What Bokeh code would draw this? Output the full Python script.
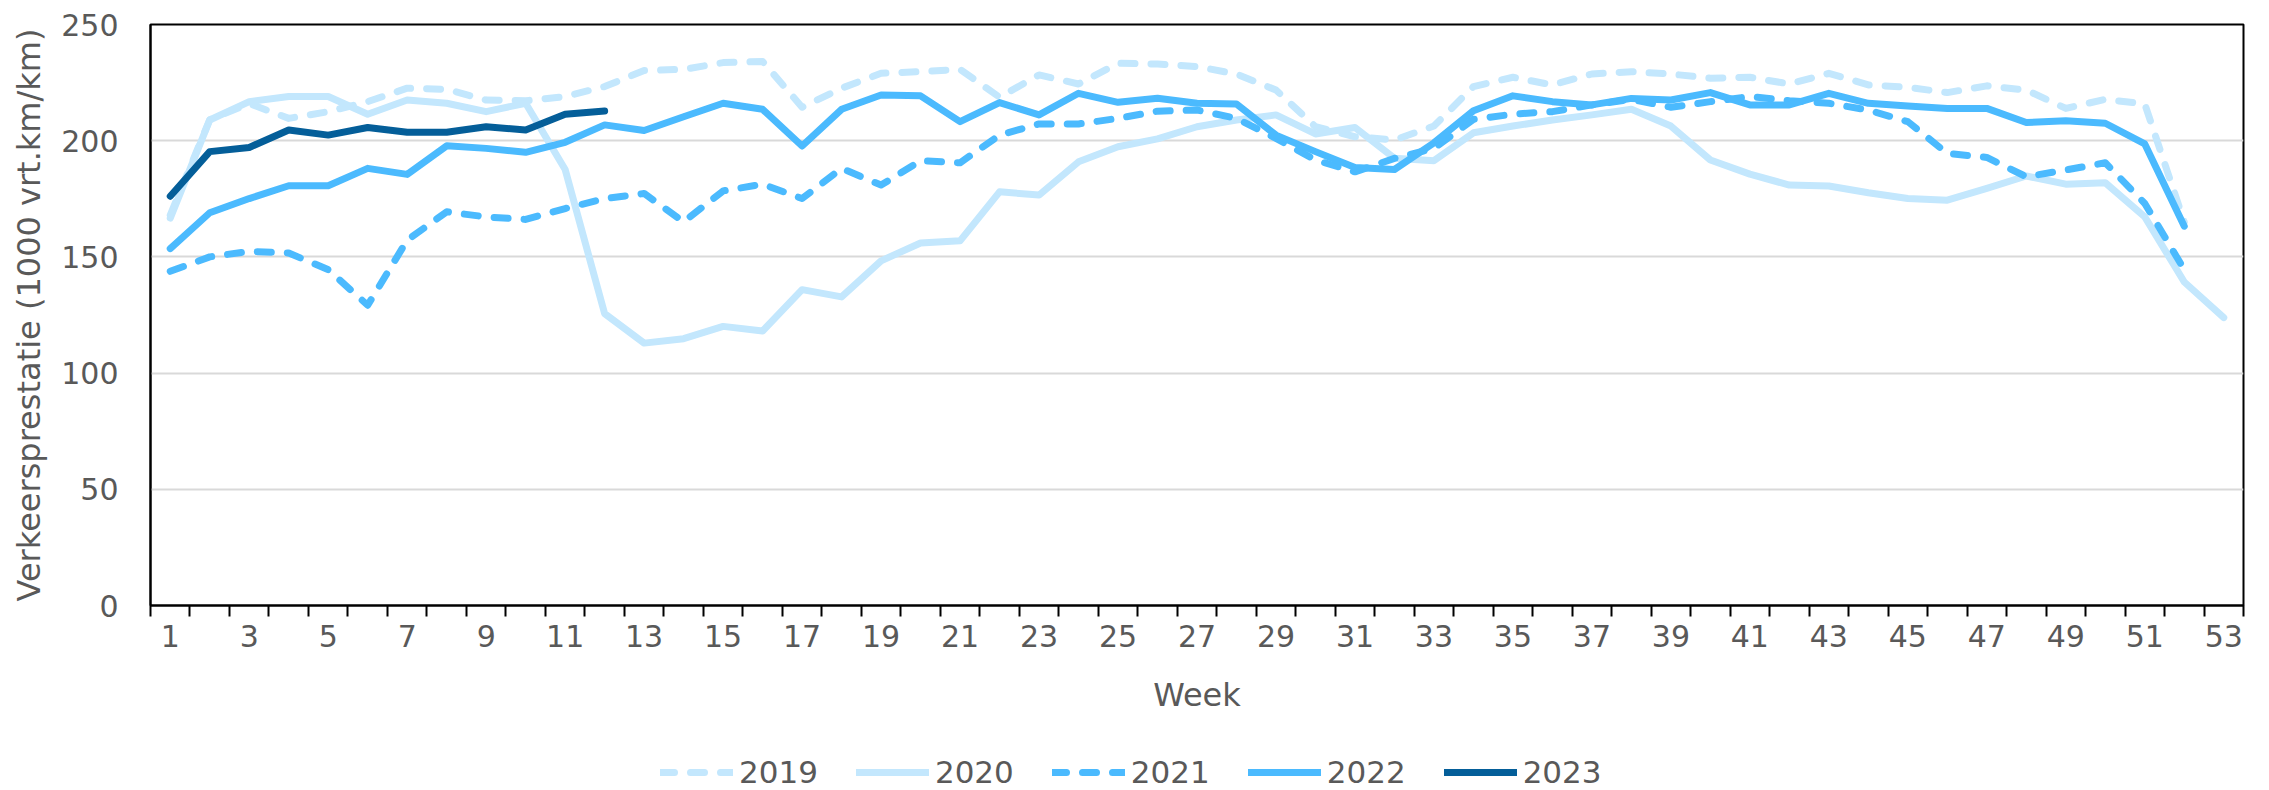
from bokeh.plotting import figure
from bokeh.layouts import column
from bokeh.models import FixedTicker, Legend, LegendItem, Range1d, ColumnDataSource
from bokeh.embed import file_html
from bokeh.resources import INLINE

weeks = list(range(1, 54))
tick_weeks = list(range(1, 54, 2))
y_ticks = [0, 50, 100, 150, 200, 250]

y2019 = [168, 209, 216, 209.6, 212.5, 216.8, 222.6, 222.1, 217.5, 217.2, 219, 223.3,
         230.2, 230.7, 233.6, 234.1, 214.4, 222.6, 229, 229.7, 230.7, 218.7, 228.3, 224.4,
         233.3, 233, 231.9, 228.7, 221.8, 206, 201.7, 200.3, 206.3, 223.3, 227.3, 224,
         228.7, 229.7, 228.7, 226.9, 227.3, 224.4, 229, 224, 223, 220.7, 223.6, 221.8,
         213.9, 217.8, 215.8, 165]
y2020 = [166.7, 208.9, 216.8, 219, 219, 211.4, 217.5, 216.1, 212.5, 216.1, 187.6, 125.6,
         112.9, 114.8, 120.1, 118.1, 135.9, 132.8, 148.3, 156, 156.9, 178, 176.6, 190.9,
         197.4, 200.8, 206, 208.9, 211.1, 202.9, 205.7, 192.4, 191.4, 203.4, 206.3, 208.9,
         211.1, 213.5, 206.3, 191.7, 185.6, 180.9, 180.5, 177.6, 175.1, 174.4, 179.5, 184.8,
         181.3, 181.9, 167.2, 139.2, 123.9]
y2021 = [143.8, 150, 152.4, 151.7, 144.5, 129.2, 157.2, 169.4, 167.2, 166.1, 170.8, 175.1,
         177.3, 165.1, 178.4, 181.3, 175.1, 188.1, 180.9, 191.4, 190.5, 202.4, 207.2, 207.2,
         209.6, 212.7, 213.2, 209.6, 201, 191.7, 186.6, 192.4, 196.7, 209.2, 211.4, 212.5,
         215.4, 217.8, 214.4, 216.8, 219, 217.2, 216.1, 213.2, 208.2, 194.5, 192.8, 184.5,
         187.4, 190.5, 173, 144.5]
y2022 = [153.6, 169, 175.1, 180.6, 180.6, 188.1, 185.5, 197.8, 196.7, 195, 199.3, 206.8,
         204.4, 210.3, 216.1, 213.5, 197.7, 213.5, 219.7, 219.3, 208.2, 216.4, 211.1, 220.4,
         216.5, 218.3, 216.1, 215.8, 202.4, 195.3, 188.5, 187.6, 199.1, 212.9, 219.3, 216.8,
         215.4, 218.2, 217.5, 220.7, 215.4, 215.4, 220.4, 216.1, 214.9, 213.9, 213.9, 207.8,
         208.6, 207.5, 198.6, 163.2]
y2023 = [176.1, 195.3, 197.1, 204.6, 202.4, 205.7, 203.6, 203.6, 206, 204.6, 211.4, 212.8]

series_names = ["2019", "2020", "2021", "2022", "2023"]
series_values = [y2019, y2020, y2021, y2022, y2023]
series_colors = ["#C3E7FD", "#C3E7FD", "#4BBAFE", "#4BBAFE", "#045E99"]
series_dash = ["14 16", "solid", "14 16", "solid", "solid"]

FONT = "DejaVu Sans"
GRAY = "#595959"
W = 2261

p = figure(width=W, height=725, x_range=Range1d(0.5, 53.5), y_range=Range1d(0, 250),
           output_backend="svg", toolbar_location=None,
           min_border_left=150, min_border_right=18, min_border_top=24, min_border_bottom=120)
p.background_fill_color = "white"
p.border_fill_color = "white"
p.outline_line_color = "black"
p.outline_line_width = 2

for name, vals, col, dash in zip(series_names, series_values, series_colors, series_dash):
    src = ColumnDataSource(dict(x=weeks[:len(vals)], y=vals))
    p.line("x", "y", source=src, line_color=col, line_width=7, line_dash=dash,
           line_join="round", line_cap="round")

# axes
p.xaxis.ticker = FixedTicker(ticks=tick_weeks, minor_ticks=[w - 0.5 for w in weeks] + [53.5])
p.xaxis.major_tick_line_color = None
p.xaxis.major_tick_out = 0
p.xaxis.major_tick_in = 0
p.xaxis.minor_tick_line_color = "black"
p.xaxis.minor_tick_line_width = 2
p.xaxis.minor_tick_out = 11
p.xaxis.minor_tick_in = 0
p.xaxis.axis_line_color = "black"
p.xaxis.axis_line_width = 2
p.xaxis.major_label_text_font = FONT
p.xaxis.major_label_text_font_size = "30px"
p.xaxis.major_label_text_color = GRAY
p.xaxis.major_label_standoff = 8
p.xaxis.axis_label = "Week"
p.xaxis.axis_label_text_font = FONT
p.xaxis.axis_label_text_font_size = "32px"
p.xaxis.axis_label_text_font_style = "normal"
p.xaxis.axis_label_text_color = GRAY
p.xaxis.axis_label_standoff = 26

p.yaxis.ticker = FixedTicker(ticks=y_ticks)
p.yaxis.major_tick_line_color = None
p.yaxis.minor_tick_line_color = None
p.yaxis.major_tick_out = 0
p.yaxis.major_tick_in = 0
p.yaxis.axis_line_color = "black"
p.yaxis.axis_line_width = 2
p.yaxis.major_label_text_font = FONT
p.yaxis.major_label_text_font_size = "30px"
p.yaxis.major_label_text_color = GRAY
p.yaxis.major_label_standoff = 32
p.yaxis.axis_label = "Verkeersprestatie (1000 vrt.km/km)"
p.yaxis.axis_label_text_font = FONT
p.yaxis.axis_label_text_font_size = "32px"
p.yaxis.axis_label_text_font_style = "normal"
p.yaxis.axis_label_text_color = GRAY
p.yaxis.axis_label_standoff = 10

p.xgrid.grid_line_color = None
p.ygrid.grid_line_color = "#D9D9D9"
p.ygrid.grid_line_width = 2

# legend strip underneath the chart (its frame is aligned with the chart's frame)
pl = figure(width=W, height=65, x_range=Range1d(0, 1), y_range=Range1d(0, 1),
            output_backend="svg", toolbar_location=None,
            min_border_left=0, min_border_right=0, min_border_top=0, min_border_bottom=0)
pl.axis.visible = False
pl.grid.visible = False
pl.outline_line_color = None
pl.background_fill_color = "white"
pl.border_fill_color = "white"

items = []
for name, col, dash in zip(series_names, series_colors, series_dash):
    # off-screen proxy line, only used to draw the legend swatch
    r = pl.line(x=[-5, -4], y=[-5, -5], line_color=col, line_width=7, line_dash=dash,
                line_join="round", line_cap="round")
    items.append(LegendItem(label=name, renderers=[r]))

legend = Legend(items=items, orientation="horizontal", location=(510, 0),
                glyph_width=73, glyph_height=20, label_standoff=6, spacing=38,
                padding=0, margin=0, border_line_color=None, background_fill_alpha=0,
                label_text_font=FONT, label_text_font_size="31px", label_text_color=GRAY)
pl.add_layout(legend, "center")

layout = column(p, pl, spacing=0)
open("out.html", "w").write(file_html(layout, INLINE))
